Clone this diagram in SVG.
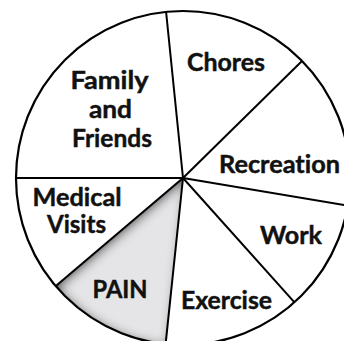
<svg xmlns="http://www.w3.org/2000/svg" width="344" height="341" viewBox="0 0 344 341">
  <defs>
    <style>
      .lbl { font-family: Lato, "Open Sans", "Liberation Sans", sans-serif; font-weight: 700; font-size: 24.5px; fill: #111; stroke: #111; stroke-width: 0.45; text-anchor: middle; font-variant-ligatures: none; font-feature-settings: "liga" 0, "clig" 0; }
      .rim { fill: none; stroke: #000; stroke-width: 2.2; }
      .spoke { stroke: #000; stroke-width: 2; fill: none; }
    </style>
    <!-- soft inner shadow for the highlighted slice -->
    <filter id="inset" x="-10%" y="-10%" width="120%" height="120%">
      <feOffset in="SourceAlpha" dx="3" dy="2" result="off"/>
      <feGaussianBlur in="off" stdDeviation="5.5" result="blur"/>
      <feComposite in="SourceAlpha" in2="blur" operator="out" result="edge"/>
      <feFlood flood-color="#222" result="ink"/>
      <feComposite in="ink" in2="edge" operator="in" result="shade"/>
      <feMerge>
        <feMergeNode in="SourceGraphic"/>
        <feMergeNode in="shade"/>
      </feMerge>
    </filter>
  </defs>

  <rect width="344" height="341" fill="#fff"/>

  <!-- highlighted slice -->
  <g id="slice-pain">
    <path d="M183,178 L55.5,286.3 A167,167 0 0 0 165.6,344.1 Z" fill="#e5e5e7" filter="url(#inset)"/>
  </g>

  <!-- outer rim and slice dividers -->
  <g id="connectors">
    <circle class="rim" cx="183" cy="178" r="167"/>
    <line class="spoke" x1="183" y1="178" x2="166" y2="11"/>
    <line class="spoke" x1="183" y1="178" x2="302" y2="61"/>
    <line class="spoke" x1="183" y1="178" x2="348" y2="205.6"/>
    <line class="spoke" x1="183" y1="178" x2="294.5" y2="302.4"/>
    <line class="spoke" x1="183" y1="178" x2="165.6" y2="344.1"/>
    <line class="spoke" x1="183" y1="178" x2="55.5" y2="286.3"/>
    <line class="spoke" x1="183" y1="178" x2="16" y2="178"/>
  </g>

  <g id="family-and-friends">
    <text class="lbl" x="109.5" y="89" textLength="78" lengthAdjust="spacingAndGlyphs">Family</text>
    <text class="lbl" x="110.5" y="118" textLength="43" lengthAdjust="spacingAndGlyphs">and</text>
    <text class="lbl" x="112" y="147" textLength="80" lengthAdjust="spacingAndGlyphs">Friends</text>
  </g>
  <g id="chores">
    <text class="lbl" x="226" y="71" textLength="78" lengthAdjust="spacingAndGlyphs">Chores</text>
  </g>
  <g id="recreation">
    <text class="lbl" x="279.5" y="173" textLength="121" lengthAdjust="spacingAndGlyphs">Recreation</text>
  </g>
  <g id="work">
    <text class="lbl" x="291" y="244" textLength="62" lengthAdjust="spacingAndGlyphs">Work</text>
  </g>
  <g id="exercise">
    <text class="lbl" x="226.5" y="309" textLength="91" lengthAdjust="spacingAndGlyphs">Exercise</text>
  </g>
  <g id="medical-visits">
    <text class="lbl" x="77" y="206" textLength="89" lengthAdjust="spacingAndGlyphs">Medical</text>
    <text class="lbl" x="76.5" y="233" textLength="59" lengthAdjust="spacingAndGlyphs">Visits</text>
  </g>
  <g id="pain">
    <text class="lbl" x="120" y="298" textLength="55" lengthAdjust="spacingAndGlyphs">PAIN</text>
  </g>
</svg>
